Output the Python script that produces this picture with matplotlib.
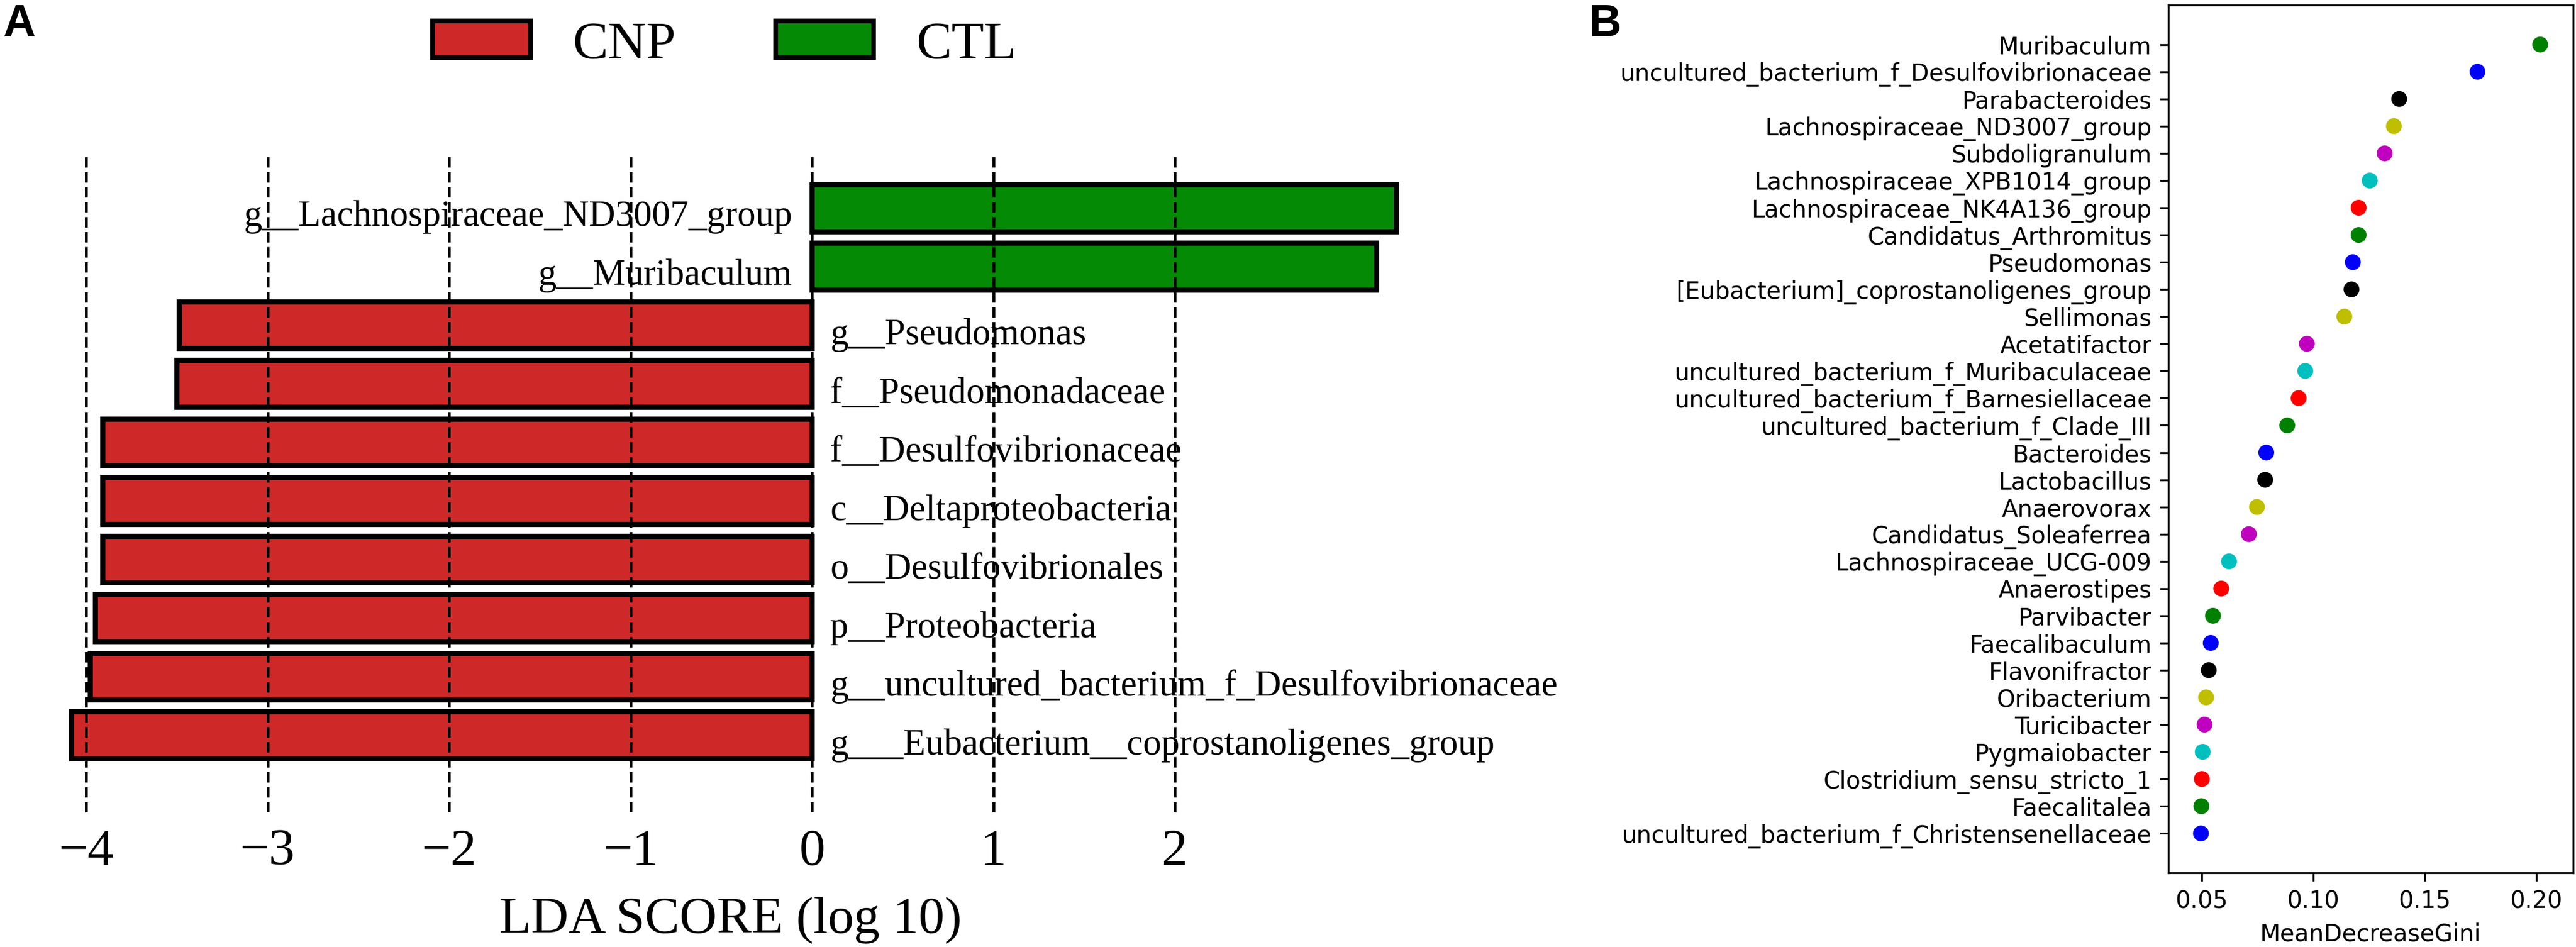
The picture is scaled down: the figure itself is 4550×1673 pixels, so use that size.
import matplotlib
matplotlib.use("Agg")
import matplotlib.pyplot as plt
from matplotlib.patches import Patch
import numpy as np

# ---------------- Panel A data (LEfSe) ----------------
lda_features = [
    "g__Lachnospiraceae_ND3007_group",
    "g__Muribaculum",
    "g__Pseudomonas",
    "f__Pseudomonadaceae",
    "f__Desulfovibrionaceae",
    "c__Deltaproteobacteria",
    "o__Desulfovibrionales",
    "p__Proteobacteria",
    "g__uncultured_bacterium_f_Desulfovibrionaceae",
    "g___Eubacterium__coprostanoligenes_group",
]
lda_scores = [3.22, 3.11, -3.49, -3.50, -3.91, -3.91, -3.91, -3.95, -3.98, -4.08]
lda_groups = ["CTL", "CTL", "CNP", "CNP", "CNP", "CNP", "CNP", "CNP", "CNP", "CNP"]
group_names = ["CNP", "CTL"]
group_colors = {"CNP": "#cf2828", "CTL": "#058a05"}
lda_ticks = [-4, -3, -2, -1, 0, 1, 2]

# ---------------- Panel B data (random forest) ----------------
rf_features = [
    "Muribaculum",
    "uncultured_bacterium_f_Desulfovibrionaceae",
    "Parabacteroides",
    "Lachnospiraceae_ND3007_group",
    "Subdoligranulum",
    "Lachnospiraceae_XPB1014_group",
    "Lachnospiraceae_NK4A136_group",
    "Candidatus_Arthromitus",
    "Pseudomonas",
    "[Eubacterium]_coprostanoligenes_group",
    "Sellimonas",
    "Acetatifactor",
    "uncultured_bacterium_f_Muribaculaceae",
    "uncultured_bacterium_f_Barnesiellaceae",
    "uncultured_bacterium_f_Clade_III",
    "Bacteroides",
    "Lactobacillus",
    "Anaerovorax",
    "Candidatus_Soleaferrea",
    "Lachnospiraceae_UCG-009",
    "Anaerostipes",
    "Parvibacter",
    "Faecalibaculum",
    "Flavonifractor",
    "Oribacterium",
    "Turicibacter",
    "Pygmaiobacter",
    "Clostridium_sensu_stricto_1",
    "Faecalitalea",
    "uncultured_bacterium_f_Christensenellaceae",
]
rf_gini = [0.2017, 0.1736, 0.1385, 0.1361, 0.1320, 0.1253, 0.1203, 0.1203,
           0.1177, 0.1171, 0.1139, 0.0971, 0.0964, 0.0934, 0.0883, 0.0789,
           0.0784, 0.0747, 0.0711, 0.0622, 0.0587, 0.0550, 0.0540, 0.0531,
           0.0519, 0.0512, 0.0504, 0.0500, 0.0498, 0.0496]
rf_ticks = [0.05, 0.10, 0.15, 0.20]
dot_cycle = ["g", "b", "k", "y", "m", "c", "r"]

W, H, DPI = 4550, 1673, 300
fig = plt.figure(figsize=(W / DPI, H / DPI), dpi=DPI)

SERIF = ["Liberation Serif", "DejaVu Serif"]

# ---------------- Panel A ----------------
axA = fig.add_axes([88 / W, 1 - 1435 / H, 2404 / W, (1435 - 273) / H])
n = len(lda_scores)
ypos = np.arange(n)[::-1]
colors = [group_colors[g] for g in lda_groups]
axA.barh(ypos, lda_scores, height=0.8, color=colors, edgecolor="black",
         linewidth=2.2, zorder=1)
for y, v, name in zip(ypos, lda_scores, lda_features):
    if v > 0:
        axA.text(-0.11, y - 0.31, name, ha="right", va="baseline",
                 fontsize=15.5, family=SERIF, clip_on=False)
    else:
        axA.text(0.1, y - 0.33, name, ha="left", va="baseline",
                 fontsize=15.5, family=SERIF, clip_on=False)
axA.set_xlim(-4.2, 3.3)
axA.set_ylim(-1.32, 9.91)
axA.set_xticks(lda_ticks)
axA.set_yticks([])
axA.set_axisbelow(False)
axA.xaxis.grid(True, linestyle="--", color="black", linewidth=1.2)
for s in axA.spines.values():
    s.set_visible(False)
axA.tick_params(axis="x", length=0, pad=7, labelsize=22)
for lab in axA.get_xticklabels():
    lab.set_family(SERIF)
axA.set_xlabel("LDA SCORE (log 10)", fontsize=22, family=SERIF, labelpad=9)

handles = [Patch(facecolor=group_colors[g], edgecolor="black", linewidth=2.0,
                 label=g) for g in group_names]
fig.legend(handles=handles, loc="center left",
           bbox_to_anchor=(764 / W, 1 - 80 / H), ncol=2, frameon=False,
           prop={"family": SERIF, "size": 22.5}, borderpad=0, borderaxespad=0,
           handlelength=1.84, handleheight=0.69, handletextpad=0.8,
           columnspacing=1.88)

fig.text(5 / W, 1 - 6 / H, "A", fontsize=19, fontweight="bold",
         family=["Liberation Sans", "DejaVu Sans"], va="top", ha="left")
fig.text(2807 / W, 1 - 6 / H, "B", fontsize=19, fontweight="bold",
         family=["Liberation Sans", "DejaVu Sans"], va="top", ha="left")

# ---------------- Panel B ----------------
axB = fig.add_axes([3830 / W, 1 - 1542 / H, 715 / W, (1542 - 9) / H])
m = len(rf_gini)
yb = np.arange(m)[::-1]
dcolors = [dot_cycle[i % len(dot_cycle)] for i in range(m)]
axB.scatter(rf_gini, yb, c=dcolors, s=45, edgecolors="none", zorder=3)
axB.set_yticks(yb)
axB.set_yticklabels(rf_features, fontsize=10, family="DejaVu Sans")
axB.set_xticks(rf_ticks)
axB.set_xticklabels([f"{t:.2f}" for t in rf_ticks], fontsize=10,
                    family="DejaVu Sans")
axB.set_xlim(0.035, 0.2165)
axB.set_ylim(-1.45, m - 1 + 1.45)
axB.set_xlabel("MeanDecreaseGini", fontsize=10, family="DejaVu Sans")

fig.savefig("out.png", dpi=DPI)
